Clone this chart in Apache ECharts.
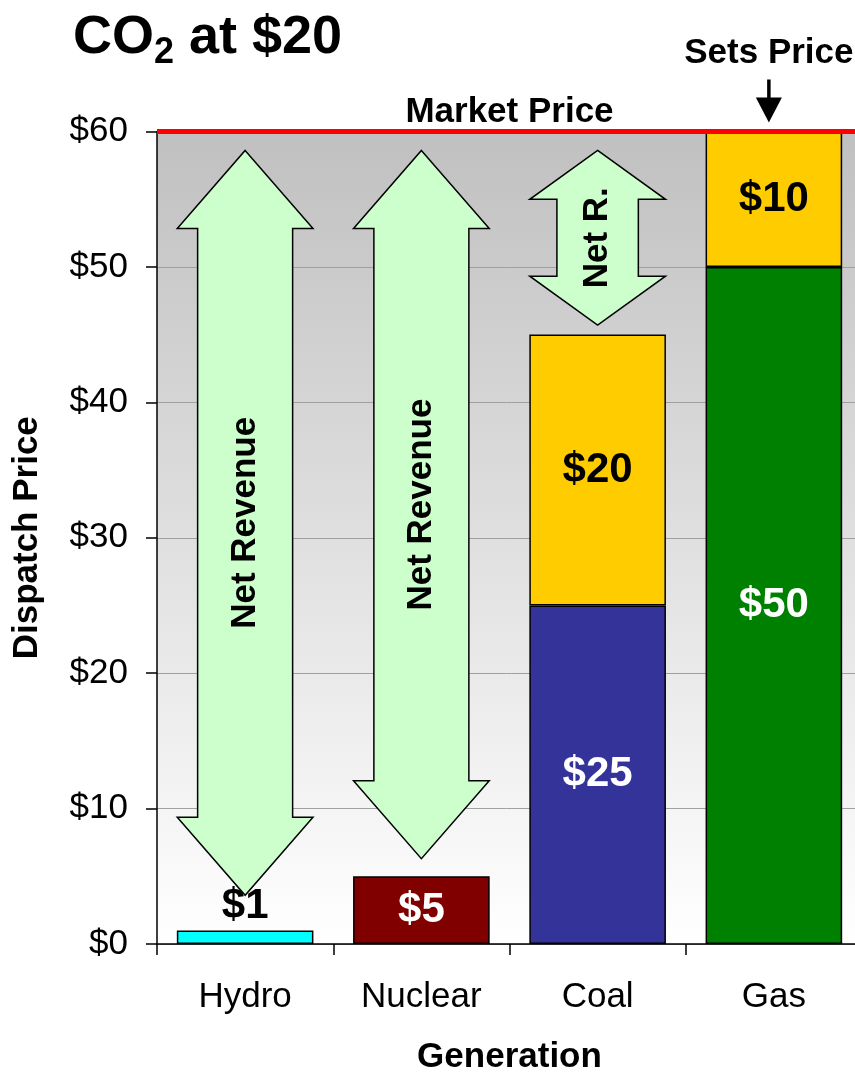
<!DOCTYPE html>
<html>
<head>
<meta charset="utf-8">
<title>CO2 at $20 – Dispatch Price</title>
<script src="https://cdn.jsdelivr.net/npm/echarts@6/dist/echarts.min.js"></script>
<style>
  html, body { margin: 0; padding: 0; background: #ffffff; }
  #chart { width: 855px; height: 1072px; }
</style>
</head>
<body>
<div id="chart"></div>
<script>
// Generation types on the merit order
const categories = ['Hydro', 'Nuclear', 'Coal', 'Gas'];
// Fuel / operating cost per unit
const fuelCost = [1, 5, 25, 50];
// Carbon cost added at a CO2 price of $20
const co2Cost = [null, null, 20, 10];
// Clearing price set by the marginal plant (gas)
const marketPrice = 60;
const marginalIndex = 3;
// Net revenue arrows: category index, lower end, upper end
const arrowCategory = [0, 1, 2];
const arrowLow = [3.6, 6.3, 45.7];
const arrowHigh = [58.6, 58.6, 58.6];
const arrowText = ['Net Revenue', 'Net Revenue', 'Net R.'];
// Value axis
const yMin = 0, yMax = 60, yStep = 10;

const fuelColors = ['#00FFFF', '#800000', '#333399', '#008000'];
const fuelLabelColors = ['#000000', '#FFFFFF', '#FFFFFF', '#FFFFFF'];
const co2Color = '#FFCC00';
const FONT = "'Liberation Sans', Arial, Helvetica, sans-serif";

const chart = echarts.init(document.getElementById('chart'), null, { renderer: 'canvas' });

function dollars(v) { return '$' + v; }

const option = {
  animation: false,
  backgroundColor: '#ffffff',
  title: {
    text: '{a|CO}{s|2}{a| at $20}',
    left: 68,
    top: 6,
    textStyle: {
      rich: {
        a: { fontFamily: FONT, fontWeight: 'bold', fontSize: 54, color: '#000', lineHeight: 60, verticalAlign: 'top' },
        s: { fontFamily: FONT, fontWeight: 'bold', fontSize: 36, color: '#000', lineHeight: 36, verticalAlign: 'bottom', padding: [33, 0, 0, 0] }
      }
    }
  },
  grid: {
    left: 157,
    top: 131.5,
    width: 705,
    height: 812.5,
    outerBoundsMode: 'none',
    containLabel: false,
    show: true,
    borderWidth: 0,
    backgroundColor: {
      type: 'linear', x: 0, y: 0, x2: 0, y2: 1,
      colorStops: [
        { offset: 0, color: '#c0c0c0' },
        { offset: 1, color: '#ffffff' }
      ]
    }
  },
  xAxis: {
    type: 'category',
    data: categories,
    axisLine: { show: true, lineStyle: { color: '#000', width: 1.5 } },
    axisTick: { show: true, length: 11, interval: 0, lineStyle: { color: '#000', width: 1.5 } },
    axisLabel: { color: '#000', fontFamily: FONT, fontSize: 35, margin: 36, interval: 0 },
    splitLine: { show: false },
    name: 'Generation',
    nameLocation: 'middle',
    nameGap: 96,
    nameTextStyle: { color: '#000', fontFamily: FONT, fontWeight: 'bold', fontSize: 35 }
  },
  yAxis: {
    type: 'value',
    min: yMin,
    max: yMax,
    interval: yStep,
    axisLine: { show: true, lineStyle: { color: '#000', width: 1.5 } },
    axisTick: { show: true, length: 11, lineStyle: { color: '#000', width: 1.5 } },
    axisLabel: { color: '#000', fontFamily: FONT, fontSize: 35, margin: 29, formatter: dollars },
    splitLine: { show: true, lineStyle: { color: '#a0a0a0', width: 1 } },
    name: 'Dispatch Price',
    nameLocation: 'middle',
    nameGap: 112,
    nameRotate: 90,
    nameTextStyle: { color: '#000', fontFamily: FONT, fontWeight: 'bold', fontSize: 35 }
  },
  series: [
    {
      name: 'Fuel',
      type: 'bar',
      stack: 'cost',
      barWidth: '77.5%',
      z: 2,
      itemStyle: { borderColor: '#000', borderWidth: 1.5 },
      label: {
        show: true,
        fontFamily: FONT,
        fontWeight: 'bold',
        fontSize: 42,
        formatter: p => dollars(p.value)
      },
      data: fuelCost.map((v, i) => ({
        value: v,
        itemStyle: { color: fuelColors[i] },
        label: { position: i === 0 ? 'top' : 'inside', color: fuelLabelColors[i], distance: 3 }
      }))
    },
    {
      name: 'CO2',
      type: 'bar',
      stack: 'cost',
      barWidth: '77.5%',
      z: 2,
      itemStyle: { color: co2Color, borderColor: '#000', borderWidth: 1.5 },
      label: {
        show: true,
        position: 'inside',
        color: '#000',
        fontFamily: FONT,
        fontWeight: 'bold',
        fontSize: 42,
        formatter: p => (p.value == null ? '' : dollars(p.value))
      },
      data: co2Cost
    },
    {
      name: 'Net revenue',
      type: 'custom',
      z: 4,
      clip: false,
      data: arrowCategory.map((c, i) => [c, arrowLow[i], arrowHigh[i]]),
      renderItem: function (params, api) {
        const i = api.value(0);
        const top = api.coord([i, api.value(2)]);
        const bot = api.coord([i, api.value(1)]);
        const band = api.size([1, 0])[0];
        const cx = top[0];
        const t = top[1], b = bot[1];
        const len = b - t;
        const hw = band * 0.77 / 2;
        const sw = hw * (len > 300 ? 0.70 : 0.60);
        const hl = Math.min(78, len * 0.28);
        const pts = [
          [cx, t], [cx + hw, t + hl], [cx + sw, t + hl], [cx + sw, b - hl], [cx + hw, b - hl],
          [cx, b], [cx - hw, b - hl], [cx - sw, b - hl], [cx - sw, t + hl], [cx - hw, t + hl]
        ];
        return {
          type: 'group',
          children: [
            {
              type: 'polygon',
              shape: { points: pts },
              style: { fill: '#CCFFCC', stroke: '#000', lineWidth: 1.5 }
            },
            {
              type: 'text',
              x: cx,
              y: (t + b) / 2,
              rotation: Math.PI / 2,
              style: {
                text: arrowText[params.dataIndex],
                fill: '#000',
                font: 'bold 35px ' + FONT,
                textAlign: 'center',
                textVerticalAlign: 'middle'
              }
            }
          ]
        };
      }
    },
    {
      name: 'Market price',
      type: 'custom',
      z: 6,
      clip: false,
      data: [[marginalIndex, marketPrice]],
      renderItem: function (params, api) {
        const p = api.coord([api.value(0), api.value(1)]);
        const x = p[0] - 5;
        const y = p[1];
        return {
          type: 'group',
          children: [
            {
              type: 'text',
              x: x, y: y - 78,
              style: {
                text: 'Sets Price', fill: '#000', font: 'bold 35px ' + FONT,
                textAlign: 'center', textVerticalAlign: 'middle'
              }
            },
            {
              type: 'line',
              shape: { x1: x, y1: y - 52, x2: x, y2: y - 32 },
              style: { stroke: '#000', lineWidth: 3.5 }
            },
            {
              type: 'polygon',
              shape: { points: [[x - 13, y - 34], [x + 13, y - 34], [x, y - 9]] },
              style: { fill: '#000' }
            }
          ]
        };
      },
      markLine: {
        silent: true,
        symbol: ['none', 'none'],
        z: 6,
        lineStyle: { color: '#FF0000', width: 5, type: 'solid' },
        label: {
          show: true,
          position: 'middle',
          formatter: 'Market Price',
          color: '#000',
          fontFamily: FONT,
          fontWeight: 'bold',
          fontSize: 35,
          distance: 2
        },
        data: [{ yAxis: marketPrice }]
      }
    }
  ]
};

chart.setOption(option);
</script>
</body>
</html>
